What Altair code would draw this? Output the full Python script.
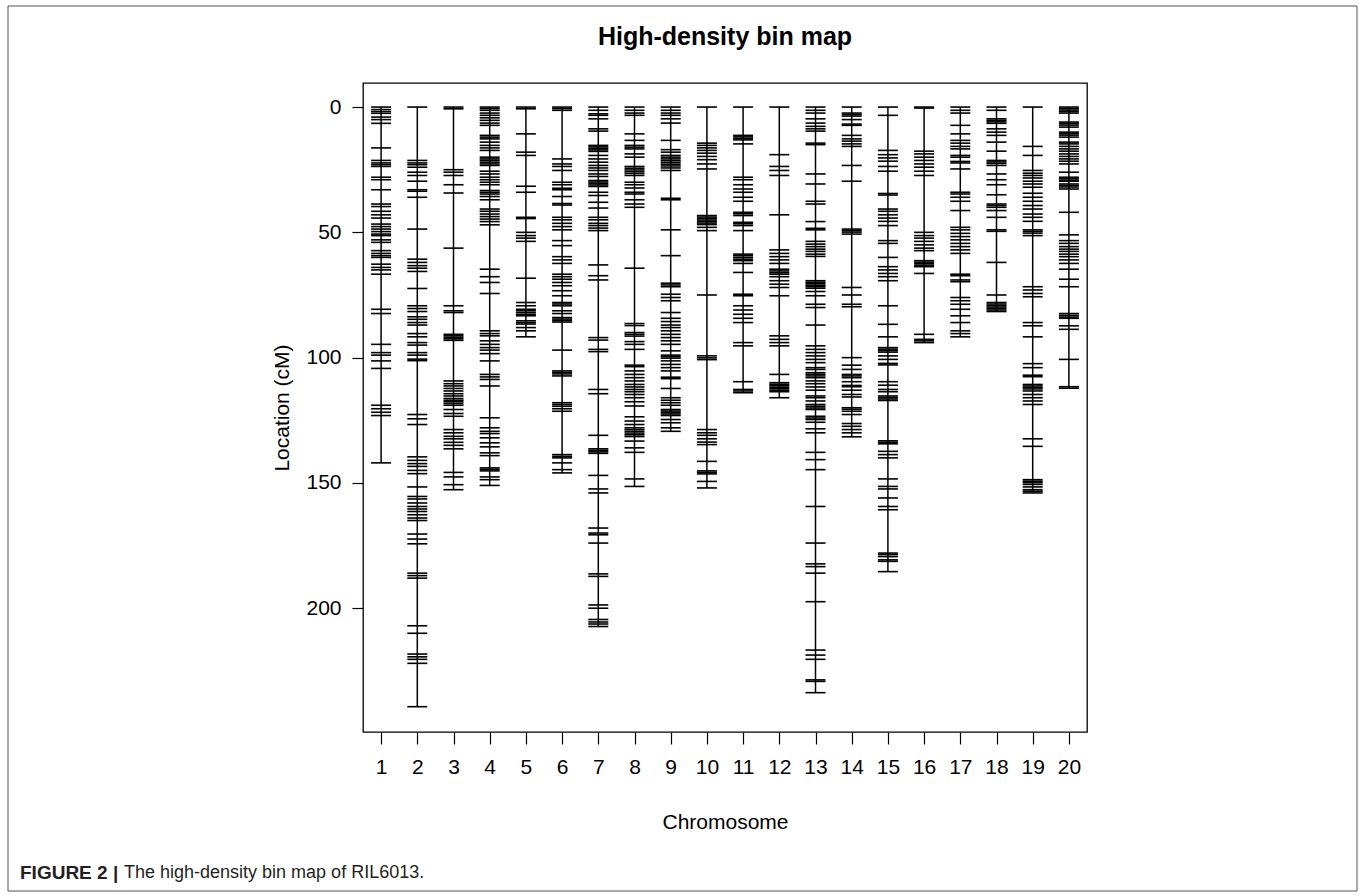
import altair as alt
import pandas as pd

# ---------------- data (marker positions in cM) ----------------
chromosomes = list(range(1, 21))

chr1 = [0, 1, 1.8, 2.5, 4, 5, 6.5, 16.3, 21.3, 22.3, 23, 23.7, 28, 29, 33, 38.7, 39.7, 41.6, 43, 44.3,
        46.7, 47.7, 48.7, 49.7, 50.7, 51.3, 53, 54, 57.3, 58.4, 59.3, 60, 62.7, 64, 65, 66.7, 80.7, 82.4,
        94.7, 98, 99, 101.3, 104.3, 119, 120.4, 121.8, 123.1, 142]
chr2 = [0, 21.3, 22.3, 23, 24, 26, 27.3, 29.6, 33, 33.6, 36, 48.7, 60.7, 62, 63.3, 64.3, 65.6, 72.4,
        79.3, 80.4, 81.6, 83.7, 84.7, 86, 87, 90.4, 91.7, 94, 95, 98, 99, 100.6, 101.2, 122.7, 124.4,
        126.7, 139.6, 141, 142.3, 143.4, 145, 146.3, 151.6, 155.4, 156.4, 158, 159.4, 160.4, 161.4,
        162.7, 164, 165, 170.4, 172.4, 174.3, 186, 187, 188, 207, 210, 218.3, 219.4, 220.4, 222, 239.3]
chr3 = [0, 0.7, 25, 26, 27.3, 31, 34.3, 56.3, 79.3, 81.3, 82, 90.7, 91.3, 91.9, 92.5, 93.1, 109.3,
        110.4, 111.3, 112.3, 113.3, 114.4, 115.3, 116.3, 117, 117.6, 118.3, 119, 120.7, 122.3, 123.4,
        128.7, 130, 131.4, 132.4, 133.8, 135, 136.4, 145.8, 147.6, 150.7, 152.7]
chr4 = [0, 0.6, 1.3, 2.4, 3.3, 4.3, 5.3, 6.4, 7.3, 11.3, 12, 12.7, 14, 15.3, 16.3, 17.3, 20, 20.7,
        21.3, 22, 22.7, 23.3, 25.6, 26.7, 28, 29, 30, 31, 33.3, 34, 34.7, 35.7, 37, 40.7, 41.6, 42.7,
        43.7, 44.7, 45.7, 47, 64.7, 67.7, 70, 74.4, 89.3, 90.4, 91.3, 93.3, 94.7, 96, 97, 98.4, 101.3,
        106.7, 107.7, 108.7, 111.3, 124, 128, 129.4, 130.3, 132, 134, 135.6, 138, 139.1, 144, 144.6,
        145.2, 147.6, 148.7, 151]
chr5 = [0, 0.7, 10.7, 18, 19.3, 31.6, 34, 44, 44.5, 50, 51.3, 52.3, 53.6, 68.3, 78, 79.3, 80.7, 81.3,
        82, 82.7, 83.3, 85.3, 86, 86.6, 88, 89.3, 91.7]
chr6 = [0, 0.6, 1.3, 20.7, 22.7, 23.7, 25.3, 30, 31, 32.4, 33, 35.7, 38.5, 39.1, 44, 45, 46.4, 47.7,
        49, 53.3, 55.3, 59.7, 61, 62.4, 66.7, 67.7, 68.7, 70, 71.3, 73.3, 75.3, 78, 78.6, 79.3, 81.3,
        82.4, 84, 84.6, 85.2, 85.8, 97, 105.3, 105.9, 106.5, 107.3, 118, 118.7, 119.4, 120.4, 121.4,
        138.7, 139.4, 140, 142, 144.7, 146]
chr7 = [0, 1.3, 2.7, 3.3, 4.7, 8.7, 9.6, 15.3, 15.9, 16.5, 17.1, 17.7, 19.3, 20.7, 22, 23.3, 24.3,
        25.3, 26.7, 27.7, 29.3, 29.9, 30.5, 31.1, 31.7, 34, 35.3, 38, 40.3, 44, 45, 46.4, 47.3, 48.3,
        49.3, 63, 67.3, 69, 92, 93, 96.7, 97.6, 112.7, 114.4, 131, 136.4, 137, 137.6, 138.2, 147,
        152.4, 154, 168, 170, 170.7, 174, 186.3, 187.3, 198.7, 200, 204.5, 205.5, 206.3, 207.3]
chr8 = [0, 1.3, 2.4, 3.3, 10.7, 13.3, 15.3, 16, 16.7, 18.7, 20, 23.7, 24.4, 25.1, 25.8, 26.5, 27.3,
        30, 31, 32.3, 34, 34.7, 37, 38.7, 40, 64.3, 86.4, 87.2, 90, 90.7, 91.4, 93.6, 94.7, 96.7, 103,
        103.6, 105.3, 106.7, 108, 109.3, 110.7, 111.7, 112.7, 113.6, 114.7, 116, 117.6, 119.3, 123.6,
        125.3, 126.7, 128, 128.7, 129.4, 130.1, 130.8, 131.5, 133.3, 136, 137.8, 148.4, 151.4]
chr9 = [0, 1.3, 2.4, 3.3, 4.7, 6.4, 13.3, 17, 18, 19.3, 20, 20.7, 21.4, 22.1, 22.8, 23.5, 24.3, 25.3,
        36.4, 37, 49, 59.3, 70.3, 71, 71.7, 74.7, 76, 77.3, 82, 84.3, 85.6, 87, 88, 89.3, 90.7, 92,
        93.3, 94.7, 97.3, 99, 99.6, 100.2, 101.3, 102.7, 104, 105.3, 107.8, 108.4, 112.3, 116, 117,
        118, 119, 120.7, 121.3, 121.9, 122.5, 123.1, 124.7, 126, 128, 129.4]
chr10 = [0, 14.4, 15.3, 16.3, 17.3, 18.4, 19.7, 21, 22.7, 24.7, 43.3, 43.9, 44.5, 45.1, 45.7, 46.3,
         46.9, 48, 49.3, 75, 99.3, 100.1, 100.8, 128.7, 130, 131, 132.4, 133.7, 134.7, 141.4, 145.2,
         145.8, 146.4, 149.4, 152]
chr11 = [0, 11.3, 11.9, 12.5, 13.1, 14.7, 28, 29, 31, 32.7, 34, 36, 37.6, 42, 42.6, 43.3, 46, 46.6,
         47.3, 49.3, 58.7, 59.3, 60, 60.7, 61.3, 62.4, 66, 74.7, 75.3, 79.3, 81, 82.7, 84.3, 86, 94,
         95.3, 109.6, 112.7, 113.3, 114]
chr12 = [0, 19, 23.7, 25.3, 27.3, 43, 57, 58.4, 59.7, 61, 62.4, 64.7, 65.4, 66.1, 66.7, 67.7, 69.3,
         70.7, 72, 75.3, 91.3, 92.7, 94, 95.3, 106.7, 110, 110.6, 111.2, 111.8, 112.4, 113, 113.6, 116]
chr13 = [0, 1.3, 2.4, 4.7, 6.4, 7.7, 8.7, 9.6, 14.4, 15, 26.7, 30.7, 37.6, 38.7, 45.7, 48.4, 49,
         53.6, 54.7, 55.7, 56.7, 57.6, 58.7, 59.6, 69.3, 69.9, 70.5, 71.1, 71.7, 72.3, 73.6, 75.3,
         78.7, 80, 87, 95.3, 96.7, 98, 99.3, 100.7, 102, 104, 104.7, 106, 106.6, 107.3, 108, 109.3,
         110.4, 111.7, 113, 115.3, 116, 117.3, 118.7, 119.4, 120.1, 120.7, 123.4, 124.1, 124.7,
         125.8, 128.4, 130, 137.8, 140.7, 144.7, 159.4, 174, 182.3, 183.4, 186, 197.4, 216.7, 218.7,
         220.4, 228.6, 229.2, 233.7]
chr14 = [0, 2.4, 3, 3.6, 5, 6.8, 7.3, 11.3, 12.7, 13.6, 14.7, 15.7, 23.3, 29.6, 48.7, 49.3, 49.9,
         50.7, 72, 75, 78.7, 79.7, 100, 103, 104.7, 106.7, 107.3, 108, 109.6, 111.1, 111.6, 113, 114.7,
         115.7, 120, 120.6, 121.4, 122.7, 126.3, 127.4, 128.7, 130, 131.6]
chr15 = [0, 3.3, 17.3, 19, 20.3, 21.6, 23.7, 25.6, 34.5, 35.1, 40.7, 41.6, 43, 44.3, 45.6, 47.3,
         53.3, 54.4, 60, 63.7, 65, 66.4, 67.7, 69.3, 79.3, 86.7, 91.7, 96, 96.6, 97.2, 97.8, 99.3,
         100.7, 102.3, 102.9, 109.6, 111, 112.7, 113.6, 115.3, 115.9, 116.5, 117.1, 133.2, 133.8,
         134.4, 137.4, 138.7, 140, 148.4, 151.4, 152.4, 156, 159.4, 160.7, 178, 178.6, 179.4, 180.7,
         181.3, 185.4]
chr16 = [0, 0.4, 17.6, 18.7, 20, 21.3, 22.7, 24, 25.6, 27.3, 50, 51.3, 52.3, 53.6, 55, 56.3, 57.3,
         61.3, 61.9, 62.5, 63.1, 63.7, 66.4, 90.7, 92.7, 93.3, 94]
chr17 = [0, 1.3, 2.4, 7.3, 10.7, 13.3, 14.4, 15.7, 16.7, 19.3, 20, 21.7, 22.3, 24.7, 34, 34.7, 36,
         37.6, 41.3, 48, 49, 50.4, 51.7, 53, 54.4, 55.7, 57, 58.4, 66.7, 67.3, 69, 69.7, 76, 77.3,
         78.7, 80.7, 83.3, 86, 89.3, 90.4, 91.7]
chr18 = [0, 1.3, 4.7, 5.3, 5.9, 6.5, 8.7, 10, 11.3, 14, 17.6, 21.3, 21.9, 22.5, 23.3, 26.7, 29, 31,
         35, 38.7, 39.3, 40, 41.3, 44, 49, 49.6, 62, 75, 78, 78.6, 79.2, 79.8, 80.4, 81, 81.6]
chr19 = [0, 15.7, 19.3, 25.3, 26.4, 27.3, 28.3, 29.6, 30.7, 32, 34.4, 36, 37.6, 39.3, 40.7, 42.7, 44,
         45.6, 49, 49.6, 50.3, 51.3, 71.7, 73, 74.4, 75.7, 86, 87.3, 91.7, 102.4, 104, 107, 107.6,
         110.7, 111.3, 111.9, 112.5, 113.3, 114.7, 116, 117.3, 118.7, 132.4, 135.4, 148.7, 149.3,
         149.9, 150.6, 151.6, 152.7, 153.3, 154]
chr20 = [0, 0.6, 1.2, 1.8, 2.4, 6, 6.6, 7.2, 8, 10, 10.6, 11.2, 12, 14, 14.7, 15.7, 16.7, 17.6, 18.7,
         19.7, 20.7, 21.6, 22.7, 26, 28, 28.6, 29.2, 29.6, 30.7, 31.3, 31.9, 32.7, 42, 51, 53.3, 54.4,
         55.7, 56.7, 57.6, 58.7, 59.7, 61, 62.4, 64.7, 68.7, 71.7, 82.4, 83.1, 83.8, 84.3, 87.3, 88.7,
         100.7, 111.6, 112.2]

y_ticks = [0, 50, 100, 150, 200]
title_text = "High-density bin map"
x_title = "Chromosome"
y_title = "Location (cM)"
caption_bold = "FIGURE 2 |"
caption_text = "The high-density bin map of RIL6013."

markers = [chr1, chr2, chr3, chr4, chr5, chr6, chr7, chr8, chr9, chr10,
           chr11, chr12, chr13, chr14, chr15, chr16, chr17, chr18, chr19, chr20]

rows = []
for c, m in zip(chromosomes, markers):
    for p in m:
        rows.append({"Chromosome": c, "Location": p})
marker_df = pd.DataFrame(rows)
line_df = pd.DataFrame({
    "Chromosome": chromosomes,
    "Start": [min(m) for m in markers],
    "End": [max(m) for m in markers],
})

FONT = "Liberation Sans"
W, H = 724, 649
LEFT, TOP = 363, 83

x_scale = alt.Scale(domain=[0.5, 20.5], nice=False, zero=False)
y_scale = alt.Scale(domain=[-9.6, 249.4], reverse=True, nice=False, zero=False)

x_axis = alt.Axis(values=chromosomes, format="d", title=x_title, grid=False, domain=False,
                  tickSize=12, tickColor="black", tickWidth=1.2, labelFontSize=21,
                  labelPadding=12, labelColor="black", labelFont=FONT, labelOverlap=False,
                  labelSeparation=0,
                  titleFont=FONT, titleFontSize=21, titleFontWeight="normal", titleColor="black",
                  titleX=W / 2, titleY=90, titleBaseline="middle", labelFlush=False)
y_axis = alt.Axis(values=y_ticks, title=y_title, grid=False, domain=False,
                  tickSize=11, tickColor="black", tickWidth=1.2, labelFontSize=21,
                  labelPadding=11, labelColor="black", labelFont=FONT, labelOverlap=False,
                  titleFont=FONT, titleFontSize=21, titleFontWeight="normal", titleColor="black",
                  titleX=-81, titleY=H / 2, titleAngle=270, titleBaseline="middle",
                  labelFlush=False)

lines = alt.Chart(line_df).mark_rule(color="black", strokeWidth=1.5).encode(
    x=alt.X("Chromosome:Q", scale=x_scale, axis=x_axis),
    y=alt.Y("Start:Q", scale=y_scale, axis=y_axis),
    y2="End:Q",
)

ticks = alt.Chart(marker_df).mark_tick(
    orient="horizontal", size=20, thickness=1.6, color="black", opacity=1
).encode(
    x=alt.X("Chromosome:Q", scale=x_scale, axis=x_axis),
    y=alt.Y("Location:Q", scale=y_scale, axis=y_axis),
)

one = pd.DataFrame({"t": [title_text], "b": [caption_bold], "c": [caption_text]})

title = alt.Chart(one).mark_text(
    font=FONT, fontSize=25, fontWeight="bold", color="black", align="center", baseline="middle"
).encode(x=alt.value(W / 2), y=alt.value(37 - TOP), text="t:N")

cap1 = alt.Chart(one).mark_text(
    font=FONT, fontSize=19, fontWeight="bold", color="#231f20", align="left", baseline="middle"
).encode(x=alt.value(20 - LEFT), y=alt.value(873 - TOP), text="b:N")

cap2 = alt.Chart(one).mark_text(
    font=FONT, fontSize=18, color="#231f20", align="left", baseline="middle"
).encode(x=alt.value(124 - LEFT), y=alt.value(873 - TOP), text="c:N")

frame = alt.Chart(one).mark_rect(
    fill="white", fillOpacity=0, stroke="#555555", strokeWidth=1
).encode(x=alt.value(8 - LEFT), x2=alt.value(1357 - LEFT),
         y=alt.value(6 - TOP), y2=alt.value(891 - TOP))

chart = alt.layer(frame, lines, ticks, title, cap1, cap2).properties(
    width=W, height=H,
    background="white",
    autosize=alt.AutoSizeParams(type="none"),
    padding={"left": LEFT, "top": TOP, "right": 1365 - LEFT - W, "bottom": 895 - TOP - H},
).configure_view(
    stroke="black", strokeWidth=1.3
).configure_axis(
    labelOverlap=False
)

chart.save("out.html", embed_options={"renderer": "svg", "actions": False})
